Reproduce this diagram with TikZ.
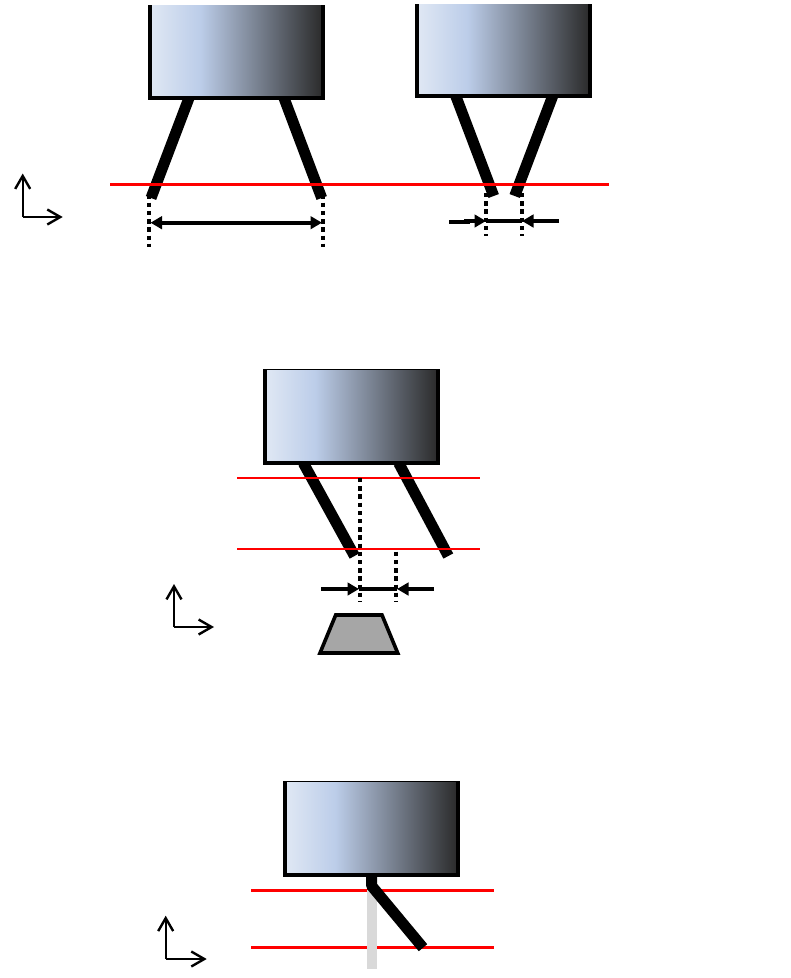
\documentclass[tikz,border=0pt]{standalone}
\usetikzlibrary{arrows.meta}
\definecolor{gA}{HTML}{E0E8F4}
\definecolor{gB}{HTML}{BCCDE9}
\definecolor{gC}{HTML}{2A2A2A}
\definecolor{redline}{HTML}{FF0000}
\definecolor{barfill}{HTML}{D9D9D9}
\definecolor{padfill}{HTML}{A6A6A6}
\pgfdeclarehorizontalshading{camgrad}{100bp}{color(0bp)=(gA); color(25bp)=(gA); color(39.5bp)=(gB); color(75bp)=(gC); color(100bp)=(gC)}
\tikzset{
  camfill/.style={shading=camgrad, shade},
  camrim/.style={line width=4pt, line cap=butt, line join=miter},
  camtop/.style={line width=1.2pt},
  leg/.style={line width=11pt, line cap=butt},
  red1/.style={draw=redline, line width=2.8pt},
  red2/.style={draw=redline, line width=2.2pt},
  dots/.style={line width=4.6pt, dash pattern=on 4.4pt off 3.8pt},
  axis/.style={line width=2.4pt, -{Straight Barb[length=13pt,width=15pt,line width=2.4pt]}},
  dim/.style={line width=4pt},
  tipdim/.style={line width=4pt, -{Triangle[length=11.5pt,width=12.5pt]}},
  bothdim/.style={line width=4pt, {Triangle[length=11.5pt,width=12.5pt]}-{Triangle[length=11.5pt,width=12.5pt]}},
}
\newcommand{\camera}[5]{% name, left, right, top, bottom
  \shade[camfill] (#2,#4) rectangle (#3,#5);
  \coordinate (#1tl) at (#2,#4);
  \coordinate (#1tr) at (#3,#4);
  \coordinate (#1bl) at (#2,#5);
  \coordinate (#1br) at (#3,#5);
  \draw[camrim] (#1tl) -- (#1bl) -- (#1br) -- (#1tr);
}
\begin{document}
\begin{tikzpicture}[x=1pt,y=-1pt]
\useasboundingbox (0,0) rectangle (791,978);
\fill[white] (0,0) rectangle (791,978);

% top-left and top-right panels
\coordinate (a1) at (189,98); \coordinate (a2) at (151,198);
\coordinate (a3) at (284,98); \coordinate (a4) at (321.7,198);
\draw[leg] (a1) -- (a2);
\draw[leg] (a3) -- (a4);
\coordinate (b1) at (455.8,96); \coordinate (b2) at (493.7,196);
\coordinate (b3) at (552.7,96); \coordinate (b4) at (514.7,196);
\draw[leg] (b1) -- (b2);
\draw[leg] (b3) -- (b4);
\camera{c1}{150}{323}{5}{98}
\camera{c2}{417}{590}{4}{96}
\coordinate (r1a) at (110,184.3); \coordinate (r1b) at (609,184.3);
\draw[red1] (r1a) -- (r1b);

\coordinate (d1a) at (149,194.5); \coordinate (d1b) at (149,247);
\coordinate (d2a) at (323,194.5); \coordinate (d2b) at (323,247);
\draw[dots] (d1a) -- (d1b);
\draw[dots] (d2a) -- (d2b);
\coordinate (w1a) at (150.5,222.7); \coordinate (w1b) at (322,222.7);
\draw[bothdim] (w1a) -- (w1b);

\coordinate (d3a) at (486,193); \coordinate (d3b) at (486,236);
\coordinate (d4a) at (522,193); \coordinate (d4b) at (522,236);
\draw[dots] (d3a) -- (d3b);
\draw[dots] (d4a) -- (d4b);
\coordinate (n1) at (449,221.8); \coordinate (n2) at (470,221.8);
\coordinate (n3) at (464,221); \coordinate (n4) at (486,221);
\coordinate (n5) at (559,221); \coordinate (n6) at (522,221);
\draw[dim] (n1) -- (n2);
\draw[tipdim] (n3) -- (n4);
\draw[tipdim] (n5) -- (n6);
\draw[dim] (n4) -- (n6);

\coordinate (o1) at (22.7,217); \coordinate (o1y) at (22.7,173.5); \coordinate (o1x) at (62.7,217);
\draw[axis] (o1) -- (o1y);
\draw[axis] (o1) -- (o1x);

% middle panel
\coordinate (e1) at (303.3,463); \coordinate (e2) at (354.5,556);
\coordinate (e3) at (398.7,463); \coordinate (e4) at (448.3,556);
\draw[leg] (e1) -- (e2);
\draw[leg] (e3) -- (e4);
\camera{c3}{265}{438}{370}{463}
\draw[camtop] (263,369.6) -- (440,369.6);
\coordinate (r2a) at (237,478); \coordinate (r2b) at (480,478);
\coordinate (r3a) at (237,549); \coordinate (r3b) at (480,549);
\draw[red2] (r2a) -- (r2b);
\draw[red2] (r3a) -- (r3b);
\coordinate (d5a) at (360,478); \coordinate (d5b) at (360,602);
\coordinate (d6a) at (396,551.7); \coordinate (d6b) at (396,601.3);
\draw[dots] (d5a) -- (d5b);
\draw[dots] (d6a) -- (d6b);
\coordinate (m1) at (321,589); \coordinate (m2) at (359,589);
\coordinate (m3) at (434,589); \coordinate (m4) at (397,589);
\draw[tipdim] (m1) -- (m2);
\draw[tipdim] (m3) -- (m4);
\draw[dim] (m2) -- (m4);
\coordinate (p1) at (320,653); \coordinate (p2) at (397.7,653);
\coordinate (p3) at (382,615); \coordinate (p4) at (335.7,615);
\draw[line width=3.6pt, fill=padfill, line join=miter] (p1) -- (p2) -- (p3) -- (p4) -- cycle;
\coordinate (o2) at (174,627); \coordinate (o2y) at (174,584); \coordinate (o2x) at (214,627);
\draw[axis] (o2) -- (o2y);
\draw[axis] (o2) -- (o2x);

% bottom panel
\coordinate (r4a) at (251,890.3); \coordinate (r4b) at (494,890.3);
\coordinate (r5a) at (251,947.3); \coordinate (r5b) at (494,947.3);
\draw[red1] (r4a) -- (r4b);
\draw[red1] (r5a) -- (r5b);
\fill[barfill] (367,890) rectangle (377,969);
\coordinate (f1) at (371.7,875); \coordinate (f2) at (371.7,886); \coordinate (f3) at (423,947.7);
\draw[leg, line join=round] (f1) -- (f2) -- (f3);
\camera{c4}{285}{458}{782}{875}
\draw[camtop] (283,781.6) -- (460,781.6);
\coordinate (o3) at (165.7,959); \coordinate (o3y) at (165.7,915.7); \coordinate (o3x) at (206.7,959);
\draw[axis] (o3) -- (o3y);
\draw[axis] (o3) -- (o3x);
\end{tikzpicture}
\end{document}
